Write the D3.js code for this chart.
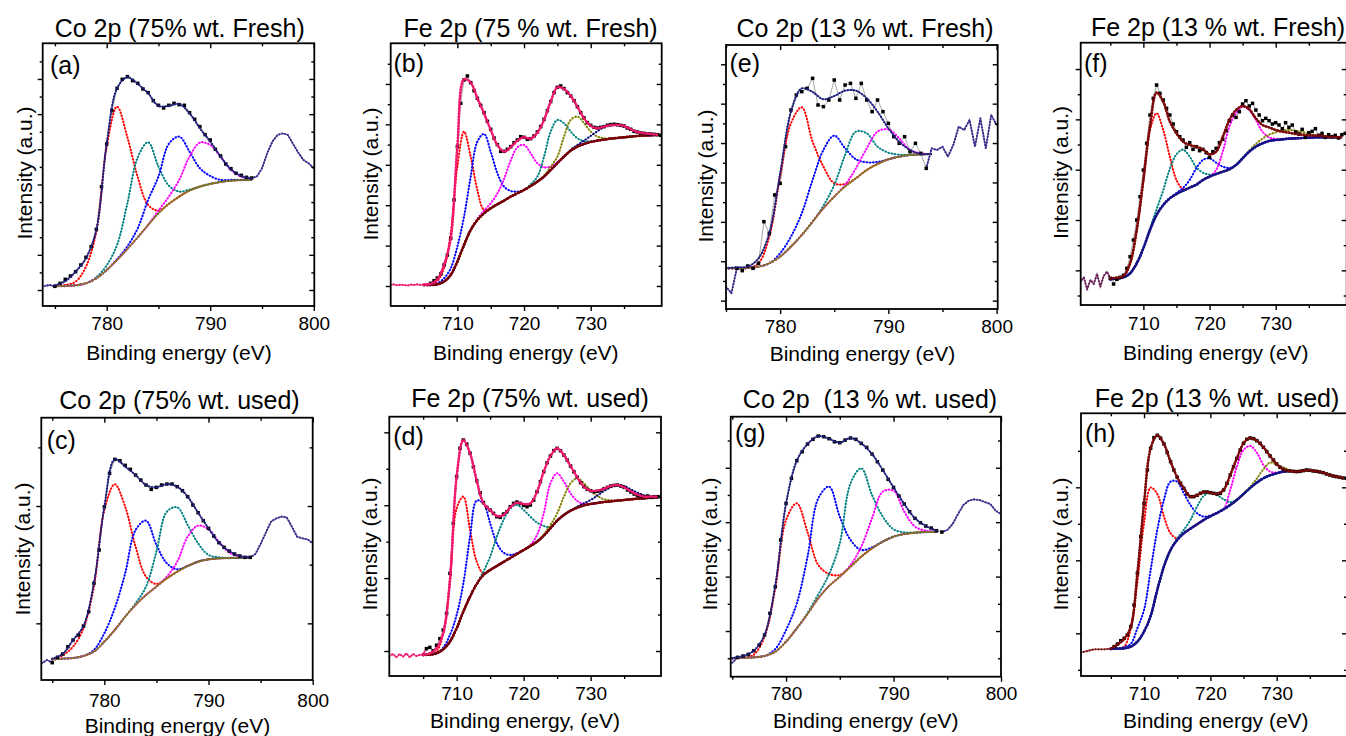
<!DOCTYPE html>
<html>
<head>
<meta charset="utf-8">
<script src="https://cdn.jsdelivr.net/npm/d3@7/dist/d3.min.js"></script>
<style>
  html, body { margin: 0; padding: 0; background: #fff; }
  svg { display: block; font-family: "Liberation Sans", Arial, Helvetica, sans-serif; }
</style>
</head>
<body>
<svg id="chart" width="1346" height="736"></svg>
<script>
// ---------- energy grids (eV) ----------
const coFitEnergy = d3.range(775, 795, 1);            // Co 2p fit window, 775..794
const feFitEnergy = d3.range(705, 741, 1);            // Fe 2p fit window, 705..740
const coRawEnergyLong = d3.range(774, 800.001, 0.5);  // panels a, c
const coRawEnergyShort = d3.range(775, 800.001, 0.5); // panels e, g
const feRawEnergyLong = d3.range(700, 740.501, 0.5);  // panels b, d
const feRawEnergyShort = d3.range(700.5, 740.501, 0.5); // panels f, h

// ---------- tick labels ----------
const coMajorTicks = [780, 790, 800];
const coMinorTicks = [775, 785, 795];
const feMajorTicks = [710, 720, 730];
const feMinorTicks = [705, 715, 725, 735];

// ---------- (a) Co 2p, 75% wt., fresh ----------
const rawA = [142,145,141,150,162,172,185,205,228,260,312,440,568,668,735,762,770,758,750,733,722,698,684,676,684,690,686,684,662,642,620,596,580,552,532,508,494,480,474,468,466,470,495,540,575,595,600,595,568,542,520,510,495];
const fitA = [144,156,185,225,310,570,735,768,748,720,682,682,688,660,615,575,530,492,472,465];
const bgA  = [142,142,144,150,165,190,220,253,288,325,360,388,410,428,440,448,454,458,460,461];
const redA  = [0,3,11,50,140,370,460,335,180,60,8,0,0,0,0,0,0,0,0,0];
const tealA = [0,0,0,0,3,14,45,137,240,248,140,55,15,3,0,0,0,0,0,0];
const blueA = [0,0,0,0,0,0,2,8,27,75,110,180,180,117,55,24,6,2,0,0];
const magA  = [0,0,0,0,0,0,0,0,0,0,8,22,50,102,132,117,76,32,10,2];

// ---------- (b) Fe 2p, 75% wt., fresh ----------
const rawB = [145,147,144,146,145,143,146,145,147,145, 146,147,150,158,166,178,205,235,285,400, 560,690,760,772,752,728,705,684,662,636, 612,586,566,546,546,552,560,572,580,590, 588,582,584,592,604,620,642,668,695,722, 738,742,734,722,712,698,680,662,646,632, 624,618,616,618,620,624,626,627,626,624, 622,616,612,606,604,601,600,598,598,597, 596,594];
const fitB = [146,148,162,205,285,560,762,752,705,660, 610,565,545,558,578,588,584,602,640,695, 738,733,712,680,645,622,615,620,624,625, 622,612,604,600,598,596];
const bgB  = [145,145,147,155,175,215,265,310,340,360, 375,387,398,410,420,430,442,455,470,490, 510,530,548,560,568,574,578,581,584,586, 588,590,592,593,594,595];
const redB   = [0,2,10,40,125,285,340,220,90,10, 0,0,0,0,0,0,0,0,0,0, 0,0,0,0,0,0,0,0,0,0, 0,0,0,0,0,0];
const blueB  = [0,0,3,10,20,45,85,160,235,238, 170,93,42,17,5,0,0,0,0,0, 0,0,0,0,0,0,0,0,0,0, 0,0,0,0,0,0];
const magB   = [0,0,0,0,0,0,0,0,3,8, 15,32,65,108,138,135,98,55,28,10, 3,0,0,0,0,0,0,0,0,0, 0,0,0,0,0,0];
const tealB  = [0,0,0,0,0,0,0,0,0,0, 0,0,0,0,0,0,5,15,60,115, 130,100,57,25,8,2,0,0,0,0, 0,0,0,0,0,0];
const oliveB = [0,0,0,0,0,0,0,0,0,0, 0,0,0,0,0,0,0,0,3,10, 20,60,92,90,62,31,12,4,0,0, 0,0,0,0,0,0];
const navyB  = [0,0,0,0,0,0,0,0,0,0, 0,0,0,0,0,0,0,0,0,0, 0,0,2,5,10,18,28,37,40,38, 32,22,12,6,3,1];

// ---------- (e) Co 2p, 13% wt., fresh ----------
const rawE = [140,120,195,188,202,195,210,335,300,415,450,560,670,715,725,735,765,685,680,700,760,700,745,750,705,750,700,665,700,665,630,590,570,590,545,570,540,495,555,550,560,530,565,620,610,640,560,645,555,655,625];
const fitE = [196,198,200,225,300,480,665,735,724,702,712,728,728,705,665,615,575,550,538,538];
const bgE  = [195,195,196,200,210,230,260,295,335,375,410,440,465,490,508,522,530,535,537,538];
const redE  = [0,0,0,10,80,240,370,383,240,125,40,8,0,0,0,0,0,0,0,0];
const blueE = [0,0,0,0,0,10,30,65,125,175,183,115,57,23,6,0,0,0,0,0];
const tealE = [0,0,0,0,0,0,0,0,0,8,35,95,140,110,52,20,6,0,0,0];
const magE  = [0,0,0,0,0,0,0,0,0,0,0,5,30,65,97,90,55,15,3,0];

// ---------- (f) Fe 2p, 13% wt., fresh ----------
const rawF = [155,168,132,160,148,178,140,172,185,165, 148,162,168,174,195,230,280,340,410,490, 570,655,705,745,720,700,675,655,628,605, 590,580,558,572,552,560,548,552,542,528, 545,555,572,582,608,638,655,648,665,688, 698,682,690,670,655,638,645,638,628,632, 625,614,632,618,625,604,598,612,588,602, 606,614,594,600,588,596,590,594,586,596, 600];
const fitF = [165,167,172,210,310,460,620,722,695,635, 600,575,565,560,552,537,545,590,640,670, 682,672,645,625,618,610,605,602,598,596, 594,593,592,590,589,588];
const bgF  = [162,164,168,180,210,255,310,355,385,405, 418,428,437,446,460,470,478,485,492,505, 525,545,560,570,577,580,582,584,585,586, 587,588,588,588,588,588];
const redF   = [0,0,5,30,100,200,300,305,225,125, 42,5,0,0,0,0,0,0,0,0, 0,0,0,0,0,0,0,0,0,0, 0,0,0,0,0,0];
const tealF  = [0,0,0,0,0,0,5,17,44,88, 119,123,93,52,22,6,0,0,0,0, 0,0,0,0,0,0,0,0,0,0, 0,0,0,0,0,0];
const blueF  = [0,0,0,0,0,0,0,0,0,0, 3,8,23,49,60,55,34,15,4,0, 0,0,0,0,0,0,0,0,0,0, 0,0,0,0,0,0];
const magF   = [0,0,0,0,0,0,0,0,0,0, 0,0,0,0,0,0,12,60,128,155, 155,125,80,35,11,3,0,0,0,0, 0,0,0,0,0,0];
const oliveF = [0,0,0,0,0,0,0,0,0,0, 0,0,0,0,0,0,0,0,0,0, 0,3,8,14,19,23,26,26,23,18, 12,6,3,0,0,0];

// ---------- (c) Co 2p, 75% wt., used ----------
const rawC = [120,130,122,138,148,170,190,205,232,275,360,460,590,690,732,728,714,702,685,670,655,642,648,655,658,658,650,638,620,595,572,548,525,502,482,468,457,448,442,438,438,448,478,512,545,555,560,558,530,500,495,492,480];
const fitC = [134,148,190,232,360,590,732,710,685,655,648,658,650,620,572,525,482,457,442,438];
const bgC  = [132,134,136,142,155,185,220,260,295,325,350,375,395,412,425,432,435,436,437,438];
const redC  = [0,10,34,83,195,395,437,330,175,55,8,0,0,0,0,0,0,0,0,0];
const blueC = [0,0,0,0,5,25,65,130,225,223,125,45,7,0,0,0,0,0,0,0];
const tealC = [0,0,0,0,0,0,0,0,5,25,105,200,193,123,55,13,3,0,0,0];
const magC  = [0,0,0,0,0,0,0,0,0,0,0,5,30,88,108,90,50,16,4,0];

// ---------- (d) Fe 2p, 75% wt., used ----------
const rawD = [142,148,138,148,140,150,138,148,142,145, 147,164,168,158,174,194,220,270,390,540, 680,765,790,778,750,710,668,632,602,588, 580,570,560,558,568,575,590,600,604,600, 594,590,595,610,635,665,695,722,742,758, 765,758,745,730,712,695,678,662,650,642, 638,635,636,638,644,648,652,654,655,652, 648,640,634,628,624,622,620,622,618,620, 620,620];
const fitD = [146,150,165,210,370,680,790,750,668,600, 580,562,565,588,602,598,600,635,695,742, 765,745,712,678,650,638,638,644,652,655, 648,636,626,620,620,620];
const bgD  = [145,146,150,162,185,225,275,320,358,385, 400,412,424,436,448,460,472,485,503,525, 548,565,578,587,594,598,601,604,606,608, 610,612,614,615,617,618];
const redD   = [0,0,5,48,175,360,345,200,67,5, 0,0,0,0,0,0,0,0,0,0, 0,0,0,0,0,0,0,0,0,0, 0,0,0,0,0,0];
const blueD  = [0,0,0,5,20,40,85,180,250,215, 140,68,28,9,2,0,0,0,0,0, 0,0,0,0,0,0,0,0,0,0, 0,0,0,0,0,0];
const tealD  = [0,0,0,0,0,0,0,0,0,10, 40,88,126,149,147,120,88,57,29,3, 0,0,0,0,0,0,0,0,0,0, 0,0,0,0,0,0];
const magD   = [0,0,0,0,0,0,0,0,0,0, 0,0,0,0,0,0,3,20,67,135, 142,100,52,20,4,0,0,0,0,0, 0,0,0,0,0,0];
const oliveD = [0,0,0,0,0,0,0,0,0,0, 0,0,0,0,0,0,0,0,3,10, 22,55,82,88,66,40,21,8,3,0, 0,0,0,0,0,0];
const navyD  = [0,0,0,0,0,0,0,0,0,0, 0,0,0,0,0,0,0,0,0,0, 0,0,0,3,6,12,22,33,42,46, 42,30,18,9,4,2];

// ---------- (g) Co 2p, 13% wt., used ----------
const rawG = [122,138,142,147,158,175,205,270,350,490,600,675,728,755,778,792,802,800,794,785,782,790,796,792,780,768,748,725,700,672,648,622,598,575,555,542,532,526,518,514,520,538,568,595,608,612,610,604,598,578,568];
const fitG = [136,142,158,205,355,600,728,778,802,794,782,796,780,748,700,648,598,555,532,518];
const bgG  = [135,137,138,142,155,185,225,268,315,352,380,410,440,465,485,500,508,512,514,515];
const redG  = [0,0,8,58,190,365,375,245,100,36,5,0,0,0,0,0,0,0,0,0];
const blueG = [0,0,0,0,8,35,75,172,300,298,180,80,20,3,0,0,0,0,0,0];
const tealG = [0,0,0,0,0,0,0,3,12,35,100,250,265,160,75,22,5,0,0,0];
const magG  = [0,0,0,0,0,0,0,0,0,0,0,5,30,90,150,138,67,18,4,0];

// ---------- (h) Fe 2p, 13% wt., used ----------
const rawH = [152,155,157,160,162,162,162,162,163,164, 170,178,188,195,205,230,295,390,500,600, 700,765,797,804,795,778,752,725,700,678, 660,645,628,620,620,624,630,634,634,632, 630,628,630,640,660,685,710,735,760,780, 792,796,794,788,780,768,755,742,730,718, 708,702,698,697,696,695,696,698,700,699, 697,696,694,692,688,685,682,680,678,676, 675];
const fitH = [164,176,193,228,390,600,765,804,778,725, 678,645,620,624,634,632,628,640,685,735, 780,796,788,768,742,718,702,697,695,698, 699,696,692,685,680,676];
const bgH  = [163,164,165,170,185,215,262,340,410,460, 490,510,524,537,550,561,571,582,595,610, 628,646,662,675,684,690,695,697,null,null, null,null,null,null,null,null];
const redH   = [0,0,5,55,180,325,385,288,150,50, 5,0,0,0,0,0,0,0,0,0, 0,0,0,0,0,0,0,0,0,0, 0,0,0,0,0,0];
const blueH  = [0,0,3,8,40,65,138,180,200,205, 175,120,71,33,10,2,0,0,0,0, 0,0,0,0,0,0,0,0,0,0, 0,0,0,0,0,0];
const tealH  = [0,0,0,0,0,0,0,0,0,0, 5,10,26,53,72,71,54,30,8,2, 0,0,0,0,0,0,0,0,0,0, 0,0,0,0,0,0];
const magH   = [0,0,0,0,0,0,0,0,0,0, 0,0,0,0,0,0,0,0,45,100, 132,126,90,40,11,2,0,0,0,0, 0,0,0,0,0,0];
const oliveH = [0,0,0,0,0,0,0,0,0,0, 0,0,0,0,0,0,0,0,0,0, 0,3,12,27,38,26,12,3,0,0, 0,0,0,0,0,0];

// ---------- colours ----------
const C = { red: '#ff0000', teal: '#008080', blue: '#0000ff', magenta: '#ff00ff', olive: '#808000', navy: '#000080' };
const coStyle  = { env: '#1f1f7a', envW: 1.4, bg: '#8a7424', bgW: 1.6, outer: '#3b2c8a' };
const feStyle1 = { env: '#f0186e', envW: 2.0, bg: '#7a0000', bgW: 2.2, outer: '#f0186e' };
const feStyle2 = { env: '#7a0808', envW: 2.0, bg: '#10108a', bgW: 2.2, outer: '#6a1f55' };

// ---------- panel layout ----------
const panels = [
  { tag: '(a)', title: 'Co 2p (75% wt. Fresh)', box: [42.7, 43.3, 314.3, 306], xDom: [773.82, 800.05], yDom: [82, 870], yTick: [130, 105.5],
    titleAt: [179.7, 36.5], tagAt: [50, 73.5], yLabAt: [32, 173], xLabAt: [179, 360], xLab: 'Binding energy (eV)', tickDy: 24,
    rawE: coRawEnergyLong, raw: rawA, fitE: coFitEnergy, fit: fitA, bg: bgA, sq: [775, 794], style: coStyle,
    comps: [[redA, C.red], [tealA, C.teal], [blueA, C.blue], [magA, C.magenta]], xMajor: coMajorTicks, xMinor: coMinorTicks },
  { tag: '(b)', title: 'Fe 2p (75 % wt. Fresh)', box: [390.7, 43.3, 661.7, 306], xDom: [700, 740.65], yDom: [82, 870], yTick: [142, 121.2],
    titleAt: [530.5, 36.5], tagAt: [393.5, 72], yLabAt: [378, 174], xLabAt: [525.8, 360], xLab: 'Binding energy (eV)', tickDy: 24,
    rawE: feRawEnergyLong, raw: rawB, fitE: feFitEnergy, fit: fitB, bg: bgB, sq: [706, 740.5], style: feStyle1,
    comps: [[redB, C.red], [blueB, C.blue], [magB, C.magenta], [tealB, C.teal], [oliveB, C.olive], [navyB, C.navy]], xMajor: feMajorTicks, xMinor: feMinorTicks },
  { tag: '(e)', title: 'Co 2p (13 % wt. Fresh)', box: [726, 45, 997.7, 309], xDom: [775, 800.1], yDom: [73, 865], yTick: [98, 118.2],
    titleAt: [865, 36.5], tagAt: [729.5, 72], yLabAt: [713, 176], xLabAt: [862.5, 360.7], xLab: 'Binding energy (eV)', tickDy: 24,
    rawE: coRawEnergyShort, raw: rawE, fitE: coFitEnergy, fit: fitE, bg: bgE, sq: [776, 793.5], style: coStyle,
    comps: [[redE, C.red], [blueE, C.blue], [tealE, C.teal], [magE, C.magenta]], xMajor: coMajorTicks, xMinor: coMinorTicks },
  { tag: '(f)', title: 'Fe 2p (13 % wt. Fresh)', box: [1080.7, 42.7, 1346.7, 305], xDom: [700.53, 740.73], yDom: [85, 872], yTick: [189, 151],
    titleAt: [1218, 35.5], tagAt: [1084, 72], yLabAt: [1068, 172.5], xLabAt: [1215.8, 360], xLab: 'Binding energy (eV)', tickDy: 25,
    rawE: feRawEnergyShort, raw: rawF, fitE: feFitEnergy, fit: fitF, bg: bgF, sq: [705, 740.5], style: feStyle2,
    comps: [[redF, C.red], [tealF, C.teal], [blueF, C.blue], [magF, C.magenta], [oliveF, C.olive]], xMajor: feMajorTicks, xMinor: feMinorTicks },
  { tag: '(c)', title: 'Co 2p (75% wt. used)', box: [41.3, 417.7, 312.7, 680], xDom: [773.95, 800], yDom: [70, 857], yTick: [240, 352],
    titleAt: [179.5, 409], tagAt: [46.7, 449], yLabAt: [30, 549], xLabAt: [177.5, 732.7], xLab: 'Binding energy (eV)', tickDy: 26.5,
    rawE: coRawEnergyLong, raw: rawC, fitE: coFitEnergy, fit: fitC, bg: bgC, sq: [775, 794], style: coStyle,
    comps: [[redC, C.red], [blueC, C.blue], [tealC, C.teal], [magC, C.magenta]], xMajor: coMajorTicks, xMinor: coMinorTicks },
  { tag: '(d)', title: 'Fe 2p (75% wt. used)', box: [389.3, 416.7, 661, 676], xDom: [699.95, 740.5], yDom: [82, 860], yTick: [157, 218.7],
    titleAt: [530, 407.3], tagAt: [393.3, 445], yLabAt: [376.7, 544], xLabAt: [525, 728.3], xLab: 'Binding energy, (eV)', tickDy: 24,
    rawE: feRawEnergyLong, raw: rawD, fitE: feFitEnergy, fit: fitD, bg: bgD, sq: [705.5, 740.5], style: feStyle1,
    comps: [[redD, C.red], [blueD, C.blue], [tealD, C.teal], [magD, C.magenta], [oliveD, C.olive], [navyD, C.navy]], xMajor: feMajorTicks, xMinor: feMinorTicks },
  { tag: '(g)', title: 'Co 2p  (13 % wt. used)', box: [730.7, 416.7, 1001, 676.7], xDom: [774.85, 800], yDom: [80, 860], yTick: [217, 163.3],
    titleAt: [870, 407.7], tagAt: [735, 441.7], yLabAt: [716.7, 544], xLabAt: [865.8, 728.3], xLab: 'Binding energy (eV)', tickDy: 23.5,
    rawE: coRawEnergyShort, raw: rawG, fitE: coFitEnergy, fit: fitG, bg: bgG, sq: [775.5, 794.5], style: coStyle,
    comps: [[redG, C.red], [blueG, C.blue], [tealG, C.teal], [magG, C.magenta]], xMajor: coMajorTicks, xMinor: coMinorTicks },
  { tag: '(h)', title: 'Fe 2p (13 % wt. used)', box: [1081, 413.3, 1347, 676], xDom: [700.5, 740.6], yDom: [82, 870], yTick: [210, 219],
    titleAt: [1217, 406.7], tagAt: [1085, 441.7], yLabAt: [1068, 544], xLabAt: [1215.8, 728.3], xLab: 'Binding energy (eV)', tickDy: 24,
    rawE: feRawEnergyShort, raw: rawH, fitE: feFitEnergy, fit: fitH, bg: bgH, sq: [705.5, 740.5], style: Object.assign({}, feStyle2, { outer: '#7a1010' }),
    comps: [[redH, C.red], [blueH, C.blue], [tealH, C.teal], [magH, C.magenta], [oliveH, C.olive]], xMajor: feMajorTicks, xMinor: feMinorTicks }
];

const svg = d3.select('#chart');

// a thin line with a row of small round markers along it
function markedCurve(g, d, color, lineW, dotW, gap) {
  g.append('path').attr('d', d).attr('fill', 'none')
    .attr('stroke', color).attr('stroke-width', lineW).attr('stroke-opacity', 0.8);
  g.append('path').attr('d', d).attr('fill', 'none')
    .attr('stroke', color).attr('stroke-width', dotW)
    .attr('stroke-linecap', 'round').attr('stroke-dasharray', `0 ${gap}`);
}

function tickSet(dom, start, step, offset) {
  const out = [];
  const m = (dom[1] - dom[0]) * 0.012;
  let v = start + offset;
  while (v - step >= dom[0] + m) v -= step;
  for (; v <= dom[1] - m; v += step) if (v >= dom[0] + m) out.push(v);
  return out;
}

panels.forEach((p, idx) => {
  const [L, T, R, B] = p.box;
  const x = d3.scaleLinear().domain(p.xDom).range([L, R]);
  const y = d3.scaleLinear().domain(p.yDom).range([B, T]);
  const g = svg.append('g');

  const clipId = 'plotclip' + idx;
  g.append('clipPath').attr('id', clipId).append('rect')
    .attr('x', L).attr('y', T).attr('width', R - L).attr('height', B - T);
  const plot = g.append('g').attr('clip-path', `url(#${clipId})`);

  const smooth = d3.line().defined(d => d[1] != null)
    .x(d => x(d[0])).y(d => y(d[1])).curve(d3.curveCatmullRom.alpha(0.5));
  const straight = d3.line().x(d => x(d[0])).y(d => y(d[1]));

  const raw = p.rawE.map((e, i) => [e, p.raw[i]]);
  const inside = raw.filter(d => d[0] >= p.sq[0] && d[0] <= p.sq[1]);
  const leftPart = raw.filter(d => d[0] <= p.sq[0]);
  const rightPart = raw.filter(d => d[0] >= p.sq[1]);

  // measured spectrum: connecting line
  plot.append('path').attr('d', straight(inside)).attr('fill', 'none')
    .attr('stroke', '#9c9c9c').attr('stroke-width', 0.9);
  [leftPart, rightPart].forEach(seg => {
    if (seg.length > 1) markedCurve(plot, straight(seg), p.style.outer, 1.3, 2.2, 3);
  });

  // fitted components on top of the background
  p.comps.forEach(([h, color]) => {
    const pts = p.fitE.map((e, i) => [e, p.bg[i] == null ? null : p.bg[i] + h[i]]);
    markedCurve(plot, smooth(pts), color, 0.8, 2.3, 3.2);
  });

  // background
  const bgPts = p.fitE.map((e, i) => [e, p.bg[i]]);
  markedCurve(plot, smooth(bgPts), p.style.bg, p.style.bgW, p.style.bgW + 0.6, 3);

  // measured points
  plot.append('g').selectAll('rect').data(inside).join('rect')
    .attr('x', d => x(d[0]) - 1.75).attr('y', d => y(d[1]) - 1.75)
    .attr('width', 3.5).attr('height', 3.5).attr('fill', '#000');

  // envelope
  const envPts = p.fitE.map((e, i) => [e, p.fit[i]]);
  markedCurve(plot, smooth(envPts), p.style.env, p.style.envW, p.style.envW + 0.8, 3);

  // axes
  const yMaj = tickSet(p.yDom, p.yTick[0], p.yTick[1], 0);
  const yMin = tickSet(p.yDom, p.yTick[0], p.yTick[1], p.yTick[1] / 2);
  const xMaj = p.xMajor.filter(v => v >= p.xDom[0] && v <= p.xDom[1]);
  const xMin = p.xMinor.filter(v => v >= p.xDom[0] && v <= p.xDom[1]);

  const clean = s => s.attr('font-family', null).attr('font-size', null)
    .call(a => a.select('.domain').remove())
    .call(a => a.selectAll('line').attr('stroke-width', 1.4));

  g.append('g').attr('transform', `translate(0,${B})`)
    .call(d3.axisBottom(x).tickValues(xMaj).tickSize(5).tickFormat(d3.format('d')))
    .call(clean)
    .call(a => a.selectAll('text').attr('y', p.tickDy).attr('dy', null).style('font-size', '19px'));
  g.append('g').attr('transform', `translate(0,${B})`)
    .call(d3.axisBottom(x).tickValues(xMin).tickSize(3).tickFormat(''))
    .call(clean);
  g.append('g').attr('transform', `translate(0,${T})`)
    .call(d3.axisTop(x).tickValues(xMaj).tickSize(-5).tickFormat(''))
    .call(clean);
  g.append('g').attr('transform', `translate(0,${T})`)
    .call(d3.axisTop(x).tickValues(xMin).tickSize(-3).tickFormat(''))
    .call(clean);
  g.append('g').attr('transform', `translate(${L},0)`)
    .call(d3.axisLeft(y).tickValues(yMaj).tickSize(5).tickFormat(''))
    .call(clean);
  g.append('g').attr('transform', `translate(${L},0)`)
    .call(d3.axisLeft(y).tickValues(yMin).tickSize(3).tickFormat(''))
    .call(clean);
  g.append('g').attr('transform', `translate(${R},0)`)
    .call(d3.axisRight(y).tickValues(yMaj).tickSize(-5).tickFormat(''))
    .call(clean);
  g.append('g').attr('transform', `translate(${R},0)`)
    .call(d3.axisRight(y).tickValues(yMin).tickSize(-3).tickFormat(''))
    .call(clean);

  // frame
  g.append('rect').attr('x', L).attr('y', T).attr('width', R - L).attr('height', B - T)
    .attr('fill', 'none').attr('stroke', '#000').attr('stroke-width', 1.8);

  // texts
  g.append('text').attr('x', p.titleAt[0]).attr('y', p.titleAt[1]).attr('text-anchor', 'middle')
    .style('font-size', '25px').style('white-space', 'pre').text(p.title);
  g.append('text').attr('x', p.tagAt[0]).attr('y', p.tagAt[1])
    .style('font-size', '25px').text(p.tag);
  g.append('text').attr('transform', `translate(${p.yLabAt[0]},${p.yLabAt[1]}) rotate(-90)`)
    .attr('text-anchor', 'middle').style('font-size', '21px').text('Intensity (a.u.)');
  g.append('text').attr('x', p.xLabAt[0]).attr('y', p.xLabAt[1]).attr('text-anchor', 'middle')
    .style('font-size', '21px').text(p.xLab);
});
</script>
</body>
</html>
